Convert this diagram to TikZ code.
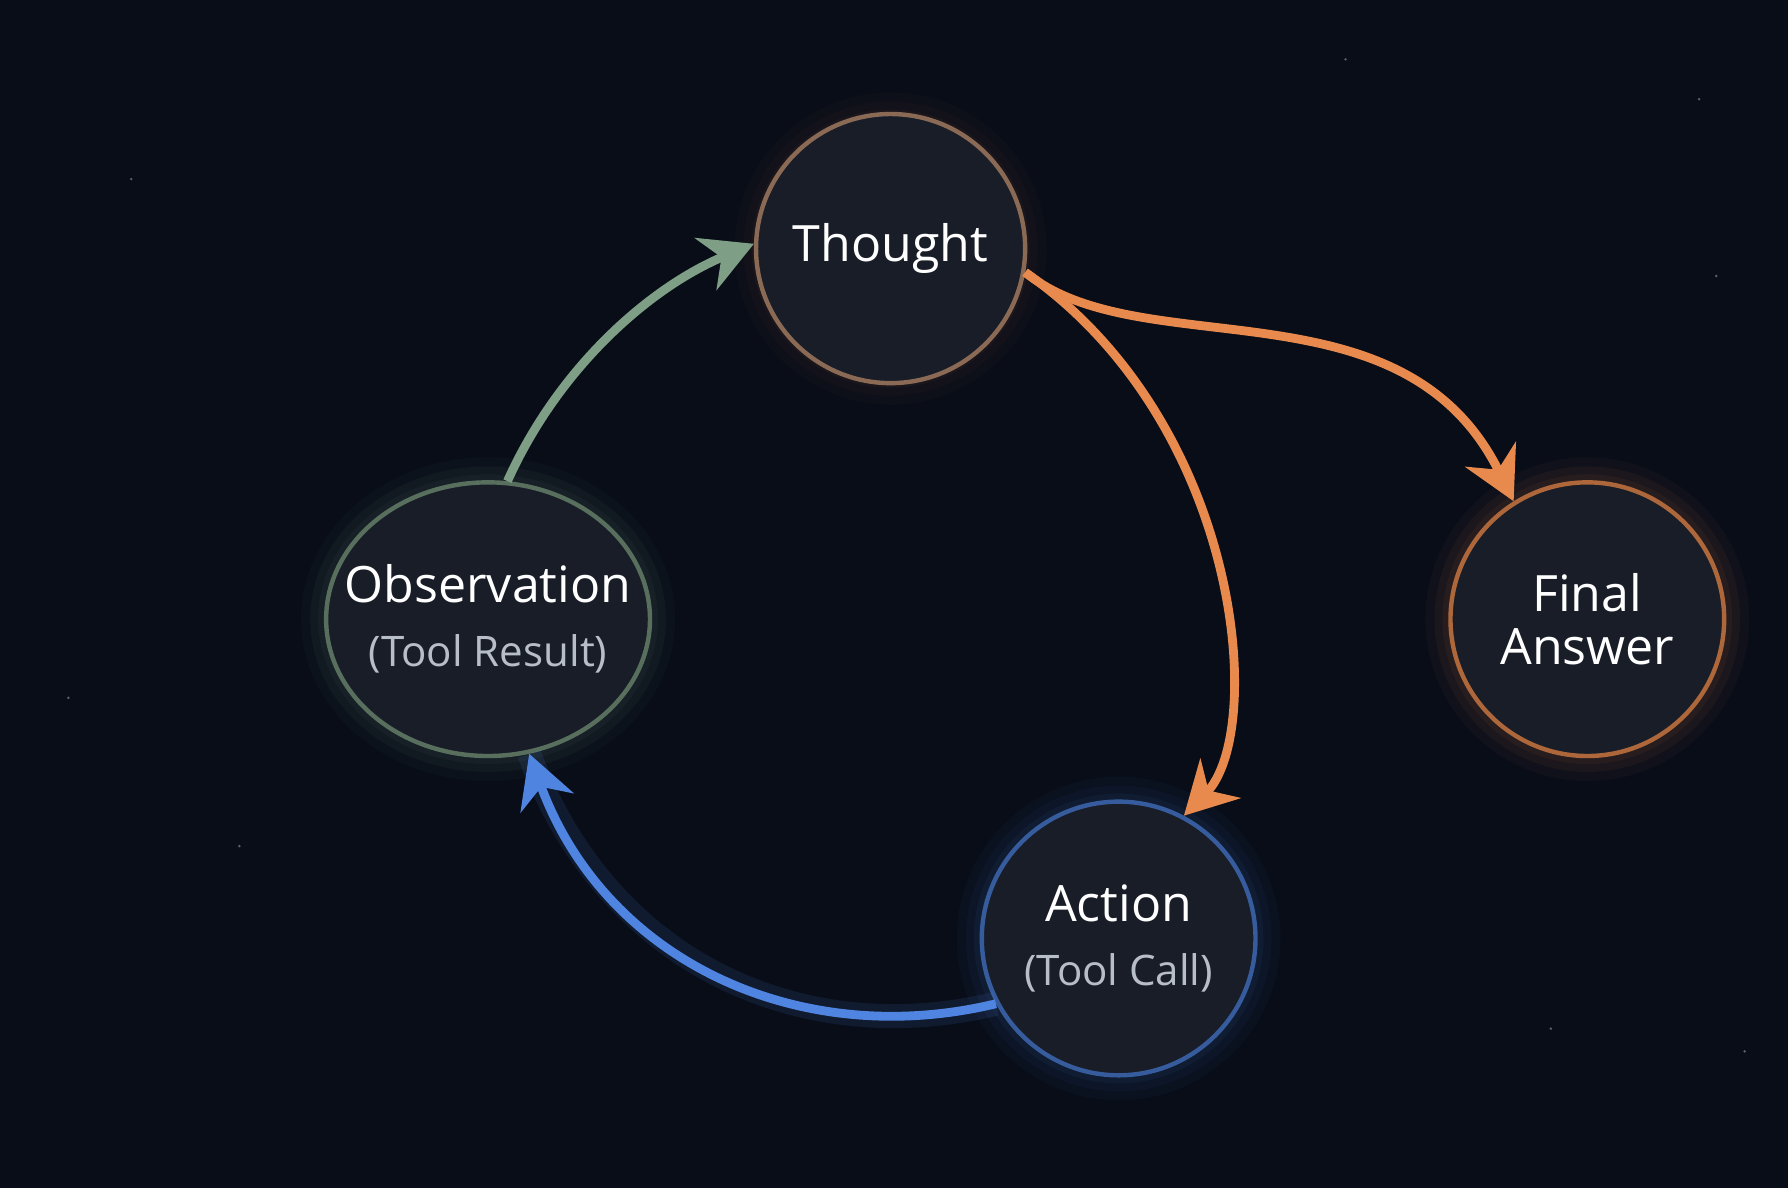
\documentclass[tikz,border=0pt]{standalone}
\usepackage{fontspec}
\setmainfont{Open Sans}
\usetikzlibrary{arrows.meta,shapes.geometric}
\definecolor{bgnavy}{HTML}{080D18}
\definecolor{nodefill}{HTML}{181D28}
\definecolor{thoughtline}{HTML}{8A6A55}
\definecolor{orangeline}{HTML}{E88A4E}
\definecolor{greenline}{HTML}{7E9E86}
\definecolor{blueline}{HTML}{4F84E0}
\definecolor{subtext}{HTML}{B8BEC8}
\tikzset{
  stage/.style={circle, fill=nodefill, draw=#1, line width=1.1pt, minimum size=2.4cm,
    inner sep=0pt, text=white, font=\fontsize{12.5}{15}\selectfont, align=center},
  glow/.style={draw=#1, line width=6pt, draw opacity=0.12},
  flow/.style={draw=#1, line width=2.2pt, -{Stealth[length=13pt,width=14pt]}},
}
\newcommand{\subline}[1]{\\[1pt]{\color{subtext}\fontsize{10.5}{13}\selectfont #1}}
\begin{document}
\begin{tikzpicture}
\fill[bgnavy] (0,0) rectangle (15.68,10.42);
\useasboundingbox (0,0) rectangle (15.68,10.42);
% stars
\foreach \sx/\sy in {1.15/8.85,14.9/9.55,15.05/8.0,2.1/3.0,13.6/1.4,15.3/1.2,0.6/4.3,11.8/9.9}
  \fill[white, opacity=0.35] (\sx,\sy) circle (0.012);

% glows
\foreach \gr/\go in {1.42/0.04,1.34/0.05,1.27/0.06}{
  \fill[orangeline, opacity=\go] (13.92,4.99) circle (\gr);
  \fill[greenline, opacity=\go] (4.28,4.99) ellipse ({\gr+0.22} and \gr);
  \fill[blueline, opacity=\go] (9.81,2.19) circle (\gr);
  \fill[orangeline, opacity=\go*0.6] (7.81,8.24) circle (\gr-0.05);
}

\node[stage=thoughtline, minimum size=2.36cm] (thought) at (7.81,8.24) {Thought};
\node[stage=greenline!70!black, ellipse, minimum width=2.84cm, minimum height=2.4cm] (obs) at (4.28,4.99) {};
\node[text=white, font=\fontsize{12.5}{15}\selectfont, align=center] (obslabel) at (obs)
  {Observation\subline{(Tool Result)}};
\node[stage=orangeline!75!black] (final) at (13.92,4.99) {Final\\[-2pt]Answer};
\node[stage=blueline!70!black] (action) at (9.81,2.19) {Action\subline{(Tool Call)}};

% connectors
\draw[flow=orangeline] (thought.-10) .. controls (10.9,6.7) and (11.1,4.0) .. (action.62);
\draw[flow=orangeline] (thought.-10) .. controls (10.0,7.2) and (12.3,8.0) .. (final.122);
\draw[flow=greenline] (obs.82) .. controls (4.9,7.2) and (5.7,7.9) .. (thought.178);
\draw[glow=blueline] (action.208) .. controls (7.0,1.2) and (5.3,2.0) .. (obs.-73);
\draw[flow=blueline] (action.208) .. controls (7.0,1.2) and (5.3,2.0) .. (obs.-73);
\end{tikzpicture}
\end{document}
